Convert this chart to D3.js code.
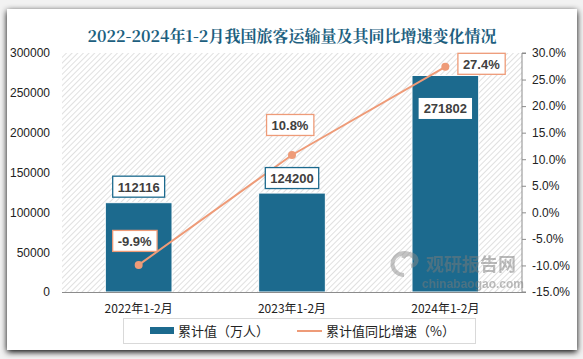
<!DOCTYPE html>
<html><head><meta charset="utf-8">
<script src="https://cdn.jsdelivr.net/npm/d3@7/dist/d3.min.js"></script>
<style>
html,body{margin:0;padding:0;background:#e9e9e9;}
svg{display:block;}
</style></head>
<body>
<svg id="c" width="583" height="359"></svg>
<script>
const categories = ["2022年1-2月","2023年1-2月","2024年1-2月"];
const volumes = [112116,124200,271802];
const growth = [-9.9,10.8,27.4];
const leftTicks = [0,50000,100000,150000,200000,250000,300000];
const rightTicks = [-15,-10,-5,0,5,10,15,20,25,30];
const title = "2022-2024年1-2月我国旅客运输量及其同比增速变化情况";
const legendLabels = ["累计值（万人）","累计值同比增速（%）"];

const barColor = "#1c6a8e", lineColor = "#ee9b78";
const svg = d3.select("#c");
const W = 583, H = 359;
const m = {l:62, r:61, t:53, b:67};
const x0 = m.l, x1 = W - m.r, y0 = H - m.b, y1 = m.t;

// card
const defs = svg.append("defs");
const f = defs.append("filter").attr("id","sh").attr("x","-10%").attr("y","-10%").attr("width","120%").attr("height","120%");
f.append("feGaussianBlur").attr("in","SourceAlpha").attr("stdDeviation",3);
f.append("feOffset").attr("dx",0).attr("dy",2).attr("result","b");
const fm = f.append("feMerge"); fm.append("feMergeNode").attr("in","b"); fm.append("feMergeNode").attr("in","SourceGraphic");
svg.append("rect").attr("x",0).attr("y",0).attr("width",W).attr("height",H).attr("fill","#f2f2f2");
svg.append("rect").attr("x",7).attr("y",9).attr("width",570).attr("height",341).attr("fill","#fff").attr("filter","url(#sh)");

// hatch pattern
const pat = defs.append("pattern").attr("id","hatch").attr("patternUnits","userSpaceOnUse").attr("width",4).attr("height",4).attr("patternTransform","rotate(45)");
pat.append("rect").attr("width",4).attr("height",4).attr("fill","#fff");
pat.append("line").attr("x1",0).attr("y1",0).attr("x2",0).attr("y2",4).attr("stroke","#cfcfcf").attr("stroke-width",1.3);
svg.append("rect").attr("x",x0).attr("y",y1).attr("width",x1-x0).attr("height",y0-y1).attr("fill","url(#hatch)");

svg.append("text").attr("x",292).attr("y",42).attr("text-anchor","middle")
  .attr("font-family","'Noto Serif CJK SC','Noto Sans CJK SC',serif").attr("font-weight","bold")
  .attr("font-size",16).attr("fill","#1d5f80").text(title);

const x = d3.scaleBand().domain(categories).range([x0,x1]).paddingInner(0.565).paddingOuter(0.2825);
const yL = d3.scaleLinear().domain([0,300000]).range([y0,y1]);
const yR = d3.scaleLinear().domain([-15,30]).range([y0,y1]);

// bars
svg.append("g").selectAll("rect").data(volumes).join("rect")
  .attr("x",(d,i)=>x(categories[i])).attr("width",x.bandwidth())
  .attr("y",d=>yL(d)).attr("height",d=>y0-yL(d)).attr("fill",barColor)
  .attr("stroke","#fff").attr("stroke-width",1);

// watermark (on top of bars)
const wm = svg.append("g").attr("opacity",0.5);
wm.append("text").attr("x",426).attr("y",271).attr("font-family","'Noto Sans CJK SC',sans-serif").attr("font-weight","bold").attr("font-size",18).attr("fill","#7a7a7a").text("观研报告网");
wm.append("text").attr("x",422).attr("y",288).attr("font-family","'Liberation Sans',Arial,sans-serif").attr("font-weight","bold").attr("font-size",12).attr("fill","#7a7a7a").text("chinabaogao.com");
wm.append("path").attr("d","M416,261 a12,11 0 1,0 -12,14 M403,258 a7,6 0 1,1 8,8").attr("fill","none").attr("stroke","#8a8a8a").attr("stroke-width",4);

// left axis
const axL = svg.append("g").attr("transform",`translate(${x0},0)`)
  .call(d3.axisLeft(yL).tickValues(leftTicks).tickSize(0).tickPadding(12).tickFormat(d3.format("d")));
axL.select(".domain").remove();
axL.selectAll("text").attr("font-family","'Liberation Sans',Arial,sans-serif").attr("font-size",12).attr("fill","#222");

// right axis
const axR = svg.append("g").attr("transform",`translate(${x1},0)`)
  .call(d3.axisRight(yR).tickValues(rightTicks).tickSize(4).tickPadding(6).tickFormat(d=>d.toFixed(1)+"%"));
axR.select(".domain").attr("stroke","#8c8c8c").attr("d",`M4,${y1}H0V${y0}H4`);
axR.selectAll("line").attr("stroke","#8c8c8c");
axR.selectAll("text").attr("font-family","'Liberation Sans',Arial,sans-serif").attr("font-size",12).attr("fill","#222");

// bottom axis
svg.append("line").attr("x1",x0).attr("x2",x1).attr("y1",y0+0.5).attr("y2",y0+0.5).attr("stroke","#8c8c8c");
const axB = svg.append("g").attr("transform",`translate(0,${y0})`)
  .call(d3.axisBottom(x).tickSize(0).tickPadding(12));
axB.select(".domain").remove();
axB.selectAll("text").attr("font-family","'Noto Sans CJK SC',sans-serif").attr("font-size",12).attr("fill","#222");

// line
const cx = (i)=>x(categories[i])+x.bandwidth()/2;
svg.append("path").datum(growth).attr("fill","none").attr("stroke",lineColor).attr("stroke-width",2)
  .attr("d",d3.line().x((d,i)=>cx(i)).y(d=>yR(d)));
svg.append("g").selectAll("circle").data(growth).join("circle")
  .attr("cx",(d,i)=>cx(i)).attr("cy",d=>yR(d)).attr("r",4).attr("fill",lineColor);

// labels
function label(cxp, cyp, txt, border){
  const g = svg.append("g");
  const t = g.append("text").attr("x",cxp).attr("y",cyp+5).attr("text-anchor","middle")
    .attr("font-family","'Liberation Sans',Arial,sans-serif").attr("font-weight","bold").attr("font-size",13).attr("fill","#404040").text(txt);
  const bb = t.node().getBBox();
  g.insert("rect","text").attr("x",bb.x-5).attr("y",cyp-10.5).attr("width",bb.width+10).attr("height",21)
    .attr("fill","#fff").attr("stroke",border||"none").attr("stroke-width",1.3);
}
const barLabelOff = [[0,-16],[0,-15],[0,33]];
volumes.forEach((v,i)=>{
  label(cx(i)+barLabelOff[i][0], yL(v)+barLabelOff[i][1], String(v), i<2?"#1c6a8e":null);
});
const lineLabelOff = [[-4,-24],[-2,-30],[36,-3]];
growth.forEach((g,i)=>{
  label(cx(i)+lineLabelOff[i][0], yR(g)+lineLabelOff[i][1], g.toFixed(1)+"%", "#ee9b78");
});

// legend
svg.append("rect").attr("x",123.5).attr("y",318.5).attr("width",352).attr("height",25).attr("fill","#fff").attr("stroke","#d9d9d9");
svg.append("rect").attr("x",150).attr("y",327).attr("width",24).attr("height",7).attr("fill",barColor);
svg.append("text").attr("x",178).attr("y",336).attr("font-family","'Noto Sans CJK SC',sans-serif").attr("font-size",13).attr("fill","#222").text(legendLabels[0]);
svg.append("line").attr("x1",297).attr("x2",322).attr("y1",331).attr("y2",331).attr("stroke",lineColor).attr("stroke-width",2);
svg.append("text").attr("x",326).attr("y",336).attr("font-family","'Noto Sans CJK SC',sans-serif").attr("font-size",13).attr("fill","#222").text(legendLabels[1]);
</script>
</body></html>
